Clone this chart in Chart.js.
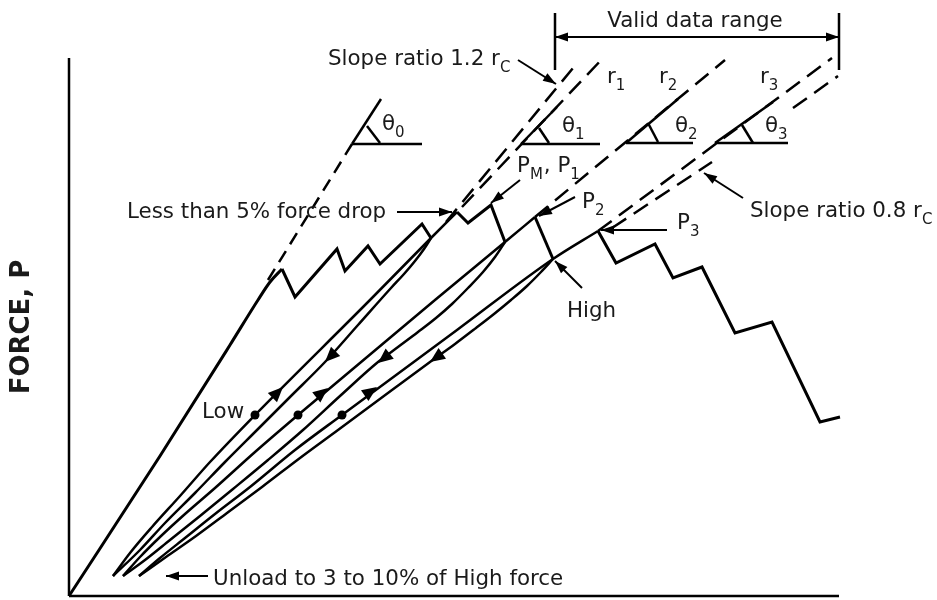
<!DOCTYPE html>
<html lang="en">
<head>
<meta charset="UTF-8">
<title>Force record with unload / reload cycles</title>
<script src="https://cdn.jsdelivr.net/npm/chart.js"></script>
<style>
  html, body { margin: 0; padding: 0; background: #fff; }
  canvas { display: block; }
</style>
</head>
<body>
<canvas id="forceChart" width="937" height="600"></canvas>
<script>
// drawing units: x = opening displacement, y = force, origin at the axes corner
const axisX = [[0, 0], [770, 0]];
const axisY = [[0, 0], [0, 538]];

const initialLoad = [[0, 0], [91, 140], [161, 251], [189, 296], [201, 314], [213, 327]];
const firstDrops = [[213, 327], [226, 299], [268, 347], [276, 325], [299, 350], [311, 332], [353, 372], [362, 358]];

const unload1 = [[362, 358], [355, 347], [346, 335], [335, 322], [322, 308], [289, 271], [256, 234], [221, 199], [188, 166], [156, 134], [126, 103], [96, 73], [71, 46], [44, 20]];
const reload1 = [[44, 20], [61, 43], [83, 69], [111, 100], [141, 134], [186, 181], [301, 296], [362, 358], [388, 384]];
const secondDrops = [[388, 384], [399, 373], [422, 391], [436, 354]];

const unload2 = [[436, 354], [426, 339], [414, 324], [399, 308], [383, 292], [367, 278], [349, 264], [329, 249], [309, 234], [271, 200], [234, 166], [199, 136], [164, 107], [131, 80], [101, 56], [76, 36], [54, 20]];
const reload2 = [[54, 20], [71, 39], [91, 59], [116, 82], [146, 108], [186, 144], [229, 181], [366, 296], [436, 354], [466, 379]];
const thirdDrop = [[466, 379], [484, 337]];

const unload3 = [[484, 337], [472, 324], [458, 310], [442, 296], [425, 282], [407, 268], [386, 252], [361, 234], [323, 206], [269, 166], [231, 138], [193, 109], [158, 83], [127, 60], [97, 39], [70, 20]];
const reload3 = [[70, 20], [91, 38], [116, 58], [146, 82], [181, 109], [226, 146], [273, 181], [388, 266], [484, 337], [529, 365]];
const finalDrops = [[529, 365], [547, 333], [586, 352], [604, 318], [633, 329], [666, 263], [703, 274], [751, 174], [771, 179]];

const lowPoints = [[186, 181], [229, 181], [273, 181]];

// slope construction lines (the 0.8 line breaks behind the theta 3 mark)
const slope0 = [[199, 316], [283, 452]];
const slope12 = [[377, 374], [509, 534]];
const slopeR1 = [[393, 389], [535, 539]];
const slopeR2 = [[466, 379], [656, 536]];
const slopeR3 = [[529, 365], [763, 538]];
const slope08a = [[543, 368], [643, 434]];
const slope08b = [[724, 488], [769, 520]];

// angle symbols: [vertex, end of sloped side, end of horizontal, tick start, tick end]
const angles = [
  [[283, 452], [312, 497], [353, 452], [298, 470], [311, 453]],
  [[452, 452], [488, 489], [531, 452], [470, 468], [480, 453]],
  [[557, 453], [609, 497], [624, 453], [579, 473], [589, 454]],
  [[646, 453], [704, 494], [719, 453], [673, 471], [684, 453]]
];

// valid data range bracket
const bracketLeft = [[486, 583], [486, 526]];
const bracketRight = [[770, 583], [770, 526]];

// leader lines [tail, tip]
const leaders = [
  [[449, 536], [487, 512]],
  [[328, 384], [383, 384]],
  [[451, 416], [422, 393]],
  [[506, 399], [470, 380]],
  [[598, 366], [532, 366]],
  [[674, 398], [635, 423]],
  [[513, 308], [486, 335]],
  [[139, 20], [97, 20]],
  [[628, 559], [486, 559]],
  [[628, 559], [770, 559]]
];

// direction arrows on the unload / reload paths [tail, tip]
const flowArrows = [
  [[204, 199], [214, 209]],
  [[249, 200], [259, 208]],
  [[298, 202], [308, 209]],
  [[266, 244], [256, 234]],
  [[319, 241], [309, 233]],
  [[371, 241], [361, 234]]
];

// text, "_" marks a subscript
const notes = [
  { at: [259, 531], parts: ['Slope ratio 1.2 r', '_C'] },
  { at: [626, 569], parts: ['Valid data range'], align: 'center' },
  { at: [538, 513], parts: ['r', '_1'] },
  { at: [590, 513], parts: ['r', '_2'] },
  { at: [691, 513], parts: ['r', '_3'] },
  { at: [313, 466], parts: ['θ', '_0'] },
  { at: [493, 464], parts: ['θ', '_1'] },
  { at: [606, 464], parts: ['θ', '_2'] },
  { at: [696, 464], parts: ['θ', '_3'] },
  { at: [448, 424], parts: ['P', '_M', ', P', '_1'] },
  { at: [513, 388], parts: ['P', '_2'] },
  { at: [608, 367], parts: ['P', '_3'] },
  { at: [58, 378], parts: ['Less than 5% force drop'] },
  { at: [681, 379], parts: ['Slope ratio 0.8 r', '_C'] },
  { at: [498, 279], parts: ['High'] },
  { at: [133, 178], parts: ['Low'] },
  { at: [144, 11], parts: ['Unload to 3 to 10% of High force'] }
];
const forceTitle = { at: [-47, 269], text: 'FORCE, P' };

const pts = arr => arr.map(([x, y]) => ({ x, y }));
function path(data, extra) {
  return Object.assign({
    data: pts(data), showLine: true, borderColor: '#000', backgroundColor: '#000',
    borderWidth: 3, pointRadius: 0, tension: 0, fill: false
  }, extra);
}
const loop = { borderWidth: 2.5, cubicInterpolationMode: 'monotone' };

const datasets = [
  path(axisX, { borderWidth: 2.5 }),
  path(axisY, { borderWidth: 2.5 }),
  path(initialLoad, { cubicInterpolationMode: 'monotone' }),
  path(firstDrops),
  path(unload1, loop),
  path(reload1, loop),
  path(secondDrops),
  path(unload2, loop),
  path(reload2, loop),
  path(thirdDrop),
  path(unload3, loop),
  path(reload3, loop),
  path(finalDrops),
  path(bracketLeft, { borderWidth: 2.5 }),
  path(bracketRight, { borderWidth: 2.5 })
];
[slope0].forEach(s => datasets.push(path(s, { borderWidth: 2.5, borderDash: [13, 8] })));
[slope12, slopeR1, slopeR2, slopeR3, slope08a, slope08b].forEach(s => datasets.push(path(s, { borderWidth: 2.5, borderDash: [17, 9] })));
angles.forEach(([v, s, h, t1, t2]) => {
  datasets.push(path([v, s], { borderWidth: 2.5 }));
  datasets.push(path([v, h], { borderWidth: 2.5 }));
  datasets.push(path([t1, t2], { borderWidth: 2.5 }));
});
leaders.forEach(l => datasets.push(path(l, { borderWidth: 2 })));
datasets.push({ data: pts(lowPoints), showLine: false, pointRadius: 4.5, pointBackgroundColor: '#000', pointBorderWidth: 0 });

function head(ctx, xs, ys, tail, tip, len, half) {
  const x0 = xs.getPixelForValue(tail[0]), y0 = ys.getPixelForValue(tail[1]);
  const x1 = xs.getPixelForValue(tip[0]), y1 = ys.getPixelForValue(tip[1]);
  const a = Math.atan2(y1 - y0, x1 - x0);
  ctx.beginPath();
  ctx.moveTo(x1, y1);
  ctx.lineTo(x1 - len * Math.cos(a) + half * Math.sin(a), y1 - len * Math.sin(a) - half * Math.cos(a));
  ctx.lineTo(x1 - len * Math.cos(a) - half * Math.sin(a), y1 - len * Math.sin(a) + half * Math.cos(a));
  ctx.closePath();
  ctx.fill();
}

const MAIN = '21.4px "DejaVu Sans"';
const SUB = '15px "DejaVu Sans"';

const notesPlugin = {
  id: 'notes',
  afterDatasetsDraw(chart) {
    const { ctx, scales: { x, y } } = chart;
    ctx.save();
    ctx.fillStyle = '#000';
    leaders.forEach(([t, h]) => head(ctx, x, y, t, h, 13, 4.5));
    flowArrows.forEach(([t, h]) => head(ctx, x, y, t, h, 15, 6.5));

    ctx.fillStyle = '#1a1a1a';
    ctx.textBaseline = 'alphabetic';
    ctx.textAlign = 'left';
    notes.forEach(n => {
      let px = x.getPixelForValue(n.at[0]);
      const py = y.getPixelForValue(n.at[1]);
      if (n.align === 'center') {
        let w = 0;
        n.parts.forEach(p => { ctx.font = p[0] === '_' ? SUB : MAIN; w += ctx.measureText(p.replace(/^_/, '')).width; });
        px -= w / 2;
      }
      n.parts.forEach(p => {
        const sub = p[0] === '_';
        const s = sub ? p.slice(1) : p;
        ctx.font = sub ? SUB : MAIN;
        ctx.fillText(s, px, py + (sub ? 7 : 0));
        px += ctx.measureText(s).width + (sub ? 1 : 0);
      });
    });

    ctx.translate(x.getPixelForValue(forceTitle.at[0]), y.getPixelForValue(forceTitle.at[1]));
    ctx.rotate(-Math.PI / 2);
    ctx.font = 'bold 26px "DejaVu Sans"';
    ctx.textAlign = 'center';
    ctx.textBaseline = 'middle';
    ctx.fillText(forceTitle.text, 0, 0);
    ctx.restore();
  }
};

new Chart(document.getElementById('forceChart'), {
  type: 'scatter',
  data: { datasets },
  options: {
    responsive: false,
    devicePixelRatio: 1,
    animation: false,
    layout: { padding: 0, autoPadding: false },
    plugins: { legend: { display: false }, tooltip: { enabled: false } },
    scales: {
      x: { type: 'linear', display: false, min: -69, max: 868 },
      y: { type: 'linear', display: false, min: -4, max: 596 }
    }
  },
  plugins: [notesPlugin]
});
</script>
</body>
</html>
